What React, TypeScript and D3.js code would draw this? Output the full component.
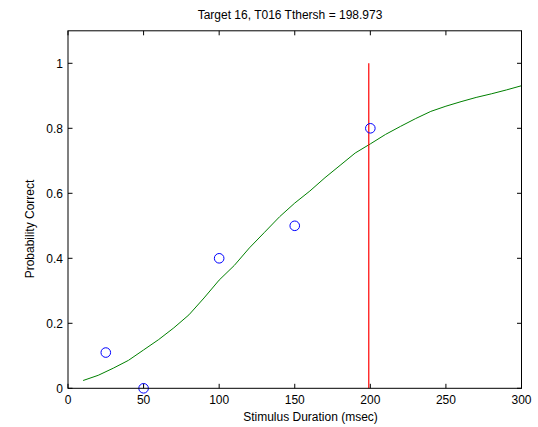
import React from "react";
import * as d3 from "d3";

const curveX = [10, 20, 30, 40, 50, 60, 70, 80, 90, 100, 110, 120, 130, 140, 150, 160, 170, 180, 190, 200, 210, 220, 230, 240, 250, 260, 270, 280, 290, 300];
const curveY = [0.024, 0.04, 0.062, 0.086, 0.118, 0.15, 0.186, 0.226, 0.278, 0.333, 0.378, 0.432, 0.48, 0.528, 0.57, 0.607, 0.648, 0.686, 0.724, 0.752, 0.781, 0.806, 0.83, 0.852, 0.868, 0.882, 0.895, 0.906, 0.918, 0.931];
const obsX = [25, 50, 100, 150, 200];
const obsY = [0.11, 0, 0.4, 0.5, 0.8];
const threshold = 198.973;
const xTicks = [0, 50, 100, 150, 200, 250, 300];
const yTicks = [0, 0.2, 0.4, 0.6, 0.8, 1];
const titleText = "Target 16, T016 Tthersh = 198.973";
const xLabel = "Stimulus Duration (msec)";
const yLabel = "Probability Correct";

const W = 538, H = 427;
const L = 68, R = 521.5, T = 30.8, B = 388.3;

export default function App() {
  const x = d3.scaleLinear().domain([0, 300]).range([L, R]);
  const y = d3.scaleLinear().domain([0, 1.1]).range([B, T]);
  const line = d3.line<number>().x((d, i) => x(curveX[i])).y((d) => y(d));
  const font = "'Liberation Sans', Arial, Helvetica, sans-serif";
  const tl = 4.5;
  return (
    <svg width={W} height={H} style={{ position: "absolute", left: 0, top: 0 }} fontFamily={font}>
      <rect x={0} y={0} width={W} height={H} fill="#fff" />
      <path d={line(curveY) || ""} fill="none" stroke="#008000" strokeWidth={1} />
      <line x1={x(threshold)} x2={x(threshold)} y1={y(0)} y2={y(1)} stroke="#ff0000" strokeWidth={1.2} />
      {obsX.map((v, i) => (
        <circle key={i} cx={x(v)} cy={y(obsY[i])} r={4.8} fill="none" stroke="#0000ff" strokeWidth={1} />
      ))}
      <rect x={L} y={T} width={R - L} height={B - T} fill="none" stroke="#000" strokeWidth={1} />
      {xTicks.map((t) => (
        <g key={"x" + t}>
          <line x1={x(t)} x2={x(t)} y1={B} y2={B - tl} stroke="#000" />
          <line x1={x(t)} x2={x(t)} y1={T} y2={T + tl} stroke="#000" />
          <text x={x(t)} y={B + 16} fontSize={12} textAnchor="middle" fill="#000">{t}</text>
        </g>
      ))}
      {yTicks.map((t) => (
        <g key={"y" + t}>
          <line x1={L} x2={L + tl} y1={y(t)} y2={y(t)} stroke="#000" />
          <line x1={R} x2={R - tl} y1={y(t)} y2={y(t)} stroke="#000" />
          <text x={L - 5} y={y(t) + 4.5} fontSize={12} textAnchor="end" fill="#000">{t}</text>
        </g>
      ))}
      <text x={290} y={19} fontSize={12} textAnchor="middle" fill="#000">{titleText}</text>
      <text x={310.5} y={421} fontSize={12} textAnchor="middle" fill="#000">{xLabel}</text>
      <text transform={`translate(34,229) rotate(-90)`} fontSize={12} textAnchor="middle" fill="#000">{yLabel}</text>
    </svg>
  );
}
